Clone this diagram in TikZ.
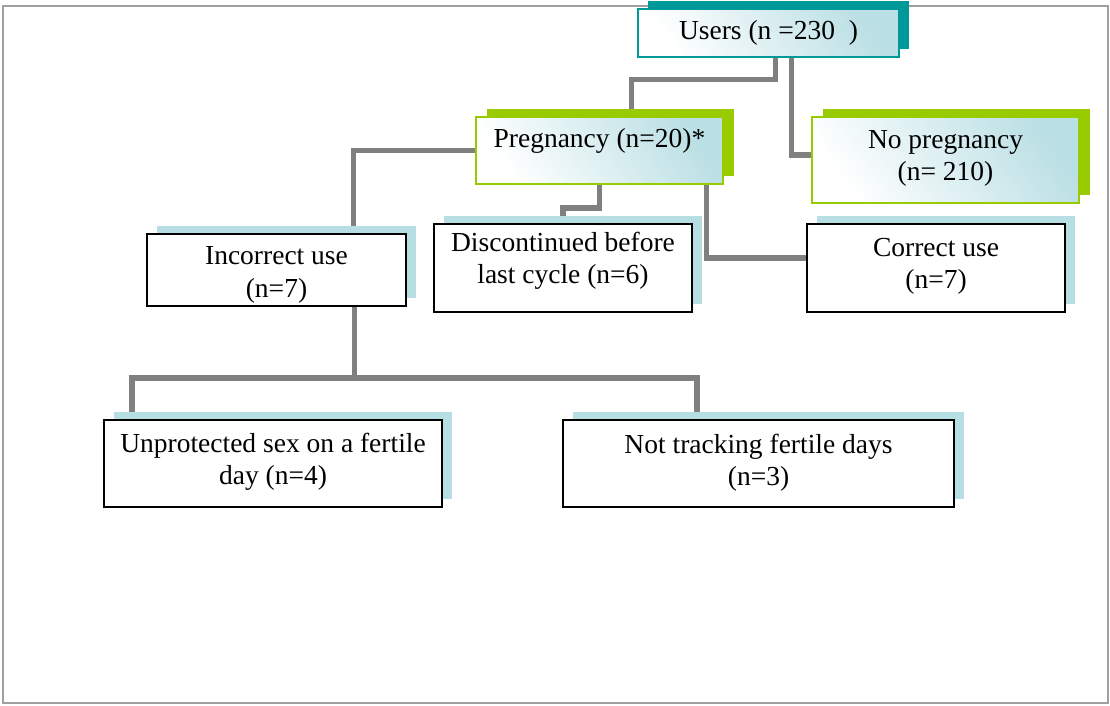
\documentclass[tikz,border=0pt]{standalone}
\usepackage{fontspec}
\setmainfont{Liberation Serif}
\usetikzlibrary{shadows,backgrounds}

\definecolor{usershadow}{RGB}{0,153,153}
\definecolor{limeshadow}{RGB}{153,204,0}
\definecolor{paleshadow}{RGB}{183,222,227}
\definecolor{paleshade}{RGB}{186,223,228}
\definecolor{framegray}{RGB}{160,160,160}
\definecolor{linkgray}{RGB}{128,128,128}

\tikzset{
    boxtext/.style={align=center, inner sep=0pt, font=\fontsize{27.5}{32.5}\selectfont},
    shaded/.style={top color=paleshade, bottom color=white, middle color=white!50!paleshade, shading angle=-55},
    plainbox/.style={boxtext, draw=black, line width=1.8pt, fill=white,
        drop shadow={shadow xshift=10pt, shadow yshift=8pt, fill=paleshadow, opacity=1}},
    userbox/.style={boxtext, draw=usershadow, line width=1.2pt, shaded,
        drop shadow={shadow xshift=10pt, shadow yshift=8pt, fill=usershadow, opacity=1}},
    limebox/.style={boxtext, draw=limeshadow, line width=1.7pt, shaded,
        drop shadow={shadow xshift=11pt, shadow yshift=8pt, fill=limeshadow, opacity=1}},
    link/.style={draw=linkgray, line width=5.5pt}
}

\begin{document}
\begin{tikzpicture}[x=1pt, y=-1pt]
    \useasboundingbox (0,0) rectangle (1110,705);

    % Frame
    \draw[framegray, line width=2.5pt] (3,6) rectangle (1108,703);

    % Top level
    \node[userbox, minimum width=261pt, minimum height=48pt] (users) at (768.5,33) {Users (n =230\ \ )};

    % Outcome
    \node[limebox, minimum width=247pt, minimum height=67pt, text depth=26pt] (preg) at (599.5,150.5) {Pregnancy (n=20)*};
    \node[limebox, minimum width=267pt, minimum height=86pt, text depth=9pt] (nopreg) at (945.5,160) {No pregnancy\\(n= 210)};

    % Pregnancy causes
    \node[plainbox, minimum width=259pt, minimum height=72pt, text height=60pt] (incorr) at (276.5,270) {Incorrect use\\(n=7)};
    \node[plainbox, minimum width=258pt, minimum height=88pt, text depth=20pt] (discont) at (563,268) {Discontinued before\\last cycle (n=6)};
    \node[plainbox, minimum width=258pt, minimum height=88pt, text depth=9pt] (corr) at (936,268) {Correct use\\(n=7)};

    % Incorrect use details
    \node[plainbox, minimum width=338pt, minimum height=87pt, text depth=9pt] (unprot) at (273,463.5) {Unprotected sex on a fertile\\day (n=4)};
    \node[plainbox, minimum width=391pt, minimum height=87pt, text depth=7pt] (notrack) at (758.5,463.5) {Not tracking fertile days\\(n=3)};

    % Connectors
    \begin{scope}[on background layer]
        \draw[link] ([xshift=7pt]users.south) -- ++(0,22) -| ([xshift=32pt]preg.north);
        \draw[link] ([xshift=23pt]users.south) |- ([yshift=5pt]nopreg.west);
        \draw[link] (preg.west) -| ([xshift=77pt]incorr.north);
        \draw[link] (preg.south) -- ++(0,23) -| (discont.north);
        \draw[link] ([xshift=107pt]preg.south) |- ([yshift=10pt]corr.west);
        \draw[link] ([xshift=78pt]incorr.south) -- ++(0,71) coordinate (split);
        \draw[link] (split) -| ([xshift=-141pt]unprot.north);
        \draw[link] (split) -| ([xshift=-61.5pt]notrack.north);
    \end{scope}
\end{tikzpicture}
\end{document}
